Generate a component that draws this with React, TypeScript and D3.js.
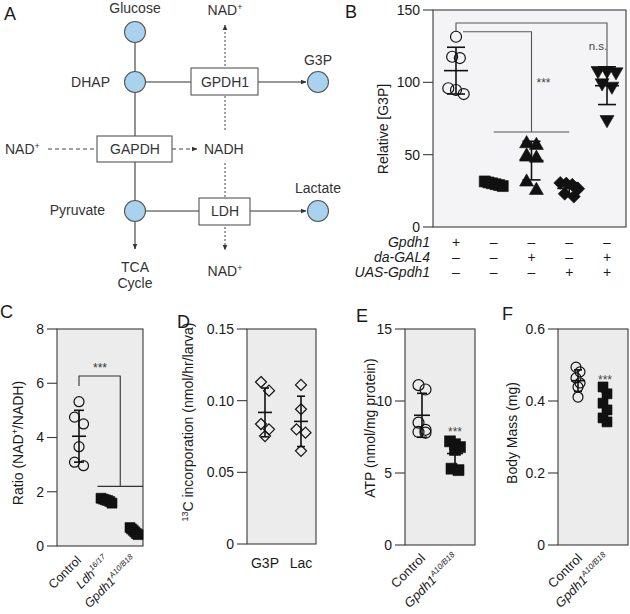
import React from 'react';
import * as d3 from 'd3';

const FONT = '"Liberation Sans", Arial, Helvetica, sans-serif';
const INK = '#1a1a1a';

// ---------- Panel B data ----------
const bGroups = ['WT', 'Gpdh1', 'daGAL4', 'UAS', 'Rescue'];
const bRowLabels = ['Gpdh1', 'da-GAL4', 'UAS-Gpdh1'];
const bRowGpdh1 = ['+', '–', '–', '–', '–'];
const bRowDaGal4 = ['–', '–', '+', '–', '+'];
const bRowUas = ['–', '–', '–', '+', '+'];
const bWT = [131.5, 117.7, 116.8, 95.9, 94.7, 91.9];
const bMut = [31.5, 30.8, 30.2, 29.6, 29.0, 28.3];
const bDaGal4 = [59, 57.8, 50.5, 49, 32.5, 26.7];
const bUas = [30.5, 30, 29.2, 26.5, 23, 21];
const bRescue = [106.7, 106.7, 105.8, 98.2, 95.9, 72.8];
const bTicks = [0, 50, 100, 150];

// ---------- Panel C data ----------
const cGroups = ['Control', 'Ldh', 'Gpdh1'];
const cControl = [5.32, 4.75, 4.5, 3.66, 3.09, 2.96];
const cLdh = [1.76, 1.73, 1.7, 1.68, 1.64, 1.58];
const cGpdh1 = [0.68, 0.63, 0.58, 0.52, 0.46, 0.42];
const cTicks = [0, 2, 4, 6, 8];

// ---------- Panel D data ----------
const dGroups = ['G3P', 'Lac'];
const dG3P = [0.113, 0.107, 0.0837, 0.08, 0.0753];
const dLac = [0.111, 0.094, 0.08, 0.0777, 0.065];
const dTicks = [0, 0.05, 0.1, 0.15];

// ---------- Panel E data ----------
const eGroups = ['Control', 'Gpdh1'];
const eControl = [11.1, 10.8, 8.5, 8.0, 7.85, 7.8];
const eGpdh1 = [7.2, 7.0, 6.8, 6.6, 5.3, 5.2];
const eTicks = [0, 5, 10, 15];

// ---------- Panel F data ----------
const fGroups = ['Control', 'Gpdh1'];
const fControl = [0.494, 0.481, 0.464, 0.45, 0.439, 0.411];
const fGpdh1 = [0.439, 0.42, 0.394, 0.375, 0.353, 0.342];
const fTicks = [0, 0.2, 0.4, 0.6];

type Shape = 'circle' | 'square' | 'triUp' | 'triDown' | 'diamond' | 'diamondOpen';

function shapePath(shape: Shape, s: number): string {
  const p = d3.path();
  const h = s / 2;
  if (shape === 'square') p.rect(-h, -h, s, s);
  else if (shape === 'triUp') {
    const th = s * 0.87;
    p.moveTo(0, -th / 2); p.lineTo(h, th / 2); p.lineTo(-h, th / 2); p.closePath();
  } else if (shape === 'triDown') {
    const th = s * 0.87;
    p.moveTo(0, th / 2); p.lineTo(h, -th / 2); p.lineTo(-h, -th / 2); p.closePath();
  } else if (shape === 'diamond' || shape === 'diamondOpen') {
    p.moveTo(0, -h); p.lineTo(h, 0); p.lineTo(0, h); p.lineTo(-h, 0); p.closePath();
  } else {
    p.moveTo(h, 0); p.arc(0, 0, h, 0, Math.PI * 2);
  }
  return p.toString();
}

function swarm(values: number[], y: (v: number) => number, binH: number, spacing: number, maxSpread: number) {
  const idx = values.map((_, i) => i).sort((a, b) => values[b] - values[a]);
  const off = new Array(values.length).fill(0);
  let bin: number[] = [];
  const flush = () => {
    const n = bin.length;
    let sp = spacing;
    if (n > 1 && (n - 1) * sp > maxSpread) sp = maxSpread / (n - 1);
    bin.forEach((k, j) => { off[k] = (j - (n - 1) / 2) * sp; });
    bin = [];
  };
  idx.forEach((i) => {
    if (bin.length && Math.abs(y(values[i]) - y(values[bin[0]])) > binH) flush();
    bin.push(i);
  });
  flush();
  return off;
}

function Group(props: {
  values: number[]; cx: number; y: d3.ScaleLinear<number, number>; shape: Shape; size: number;
  spacing: number; maxSpread: number; binH: number; meanHalf: number; capHalf: number;
}) {
  const { values, cx, y, shape, size, spacing, maxSpread, binH, meanHalf, capHalf } = props;
  const offs = swarm(values, y, binH, spacing, maxSpread);
  const m = d3.mean(values)!;
  const sd = d3.deviation(values)!;
  const open = shape === 'circle' || shape === 'diamondOpen';
  return (
    <g>
      {values.map((v, i) => (
        <path key={i} d={shapePath(shape, size)} transform={`translate(${cx + offs[i]},${y(v)})`}
          fill={open ? 'none' : '#111'} stroke="#111" strokeWidth={open ? 1.2 : 0.6} />
      ))}
      <g stroke="#111" strokeWidth={1.6}>
        <line x1={cx} x2={cx} y1={y(m + sd)} y2={y(m - sd)} />
        <line x1={cx - meanHalf} x2={cx + meanHalf} y1={y(m)} y2={y(m)} />
        <line x1={cx - capHalf} x2={cx + capHalf} y1={y(m + sd)} y2={y(m + sd)} />
        <line x1={cx - capHalf} x2={cx + capHalf} y1={y(m - sd)} y2={y(m - sd)} />
      </g>
    </g>
  );
}

function Frame(props: { x0: number; x1: number; y: d3.ScaleLinear<number, number>; ticks: number[]; fmt: (t: number) => string; fill: string }) {
  const { x0, x1, y, ticks, fmt, fill } = props;
  const [yb, yt] = y.range();
  return (
    <g>
      <rect x={x0} y={yt} width={x1 - x0} height={yb - yt} fill={fill} stroke="#3a3a3a" strokeWidth={1.1} />
      {ticks.map((t) => (
        <g key={t}>
          <line x1={x0 - 10} x2={x0} y1={y(t)} y2={y(t)} stroke="#3a3a3a" strokeWidth={1.1} />
          <text x={x0 - 13} y={y(t)} dy="0.35em" textAnchor="end" fontSize={14} fill={INK}>{fmt(t)}</text>
        </g>
      ))}
    </g>
  );
}

function YLabel(props: { x: number; y: number; children: React.ReactNode }) {
  return (
    <text transform={`translate(${props.x},${props.y}) rotate(-90)`} textAnchor="middle" fontSize={14} fill={INK}>
      {props.children}
    </text>
  );
}

function RotLabel(props: { x: number; y: number; main: string; sup?: string; italic?: boolean; size?: number }) {
  const fs = props.size ?? 13.5;
  return (
    <text transform={`translate(${props.x},${props.y}) rotate(-45)`} textAnchor="end" fontSize={fs} fill={INK}>
      <tspan fontStyle={props.italic ? 'italic' : 'normal'}>{props.main}</tspan>
      {props.sup ? <tspan fontSize={fs * 0.62} dy={-fs * 0.42} fontStyle="italic">{props.sup}</tspan> : null}
    </text>
  );
}

function PanelLetter(props: { x: number; y: number; t: string }) {
  return <text x={props.x} y={props.y} fontSize={18} fill={INK}>{props.t}</text>;
}

function PanelA() {
  const fillC = '#a9d2ef';
  const node = (x: number, y: number) => <circle cx={x} cy={y} r={10.5} fill={fillC} stroke="#555" strokeWidth={1.1} />;
  const box = (x: number, y: number, w: number, h: number) => <rect x={x} y={y} width={w} height={h} fill="#fff" stroke="#555" strokeWidth={1.1} />;
  const fs = 14;
  const sup = (t: string) => <tspan fontSize={9} dy={-5}>{t}</tspan>;
  return (
    <g fontSize={fs} fill="#333">
      <PanelLetter x={4} y={20} t="A" />
      <line x1={135} y1={32} x2={135} y2={249} stroke="#777" strokeWidth={1.6} markerEnd="url(#ah)" />
      <line x1={135} y1={82} x2={191} y2={82} stroke="#333" strokeWidth={1} />
      <line x1={258} y1={82} x2={306} y2={82} stroke="#333" strokeWidth={1} markerEnd="url(#ah)" />
      <line x1={135} y1={211} x2={199} y2={211} stroke="#333" strokeWidth={1} />
      <line x1={250} y1={211} x2={306} y2={211} stroke="#333" strokeWidth={1} markerEnd="url(#ah)" />
      <line x1={225} y1={130} x2={225} y2={25} stroke="#444" strokeWidth={1} strokeDasharray="2,2" markerEnd="url(#ah)" />
      <line x1={225} y1={163} x2={225} y2={250} stroke="#444" strokeWidth={1} strokeDasharray="2,2" markerEnd="url(#ah)" />
      <line x1={48} y1={149} x2={97} y2={149} stroke="#444" strokeWidth={1} strokeDasharray="4,3" />
      <line x1={172} y1={149} x2={197} y2={149} stroke="#444" strokeWidth={1} strokeDasharray="4,3" markerEnd="url(#ah)" />
      {box(191, 68, 67, 27)}
      {box(97, 136, 75, 26)}
      {box(199, 198, 51, 27)}
      {node(135, 32)}
      {node(135, 82)}
      {node(135, 211)}
      {node(318, 82)}
      {node(318, 211)}
      <text x={135} y={13} textAnchor="middle">Glucose</text>
      <text x={225} y={15} textAnchor="middle">NAD{sup('+')}</text>
      <text x={110} y={87} textAnchor="end">DHAP</text>
      <text x={225} y={87} textAnchor="middle">GPDH1</text>
      <text x={318} y={65} textAnchor="middle">G3P</text>
      <text x={5} y={154}>NAD{sup('+')}</text>
      <text x={135} y={154} textAnchor="middle">GAPDH</text>
      <text x={204} y={154}>NADH</text>
      <text x={105} y={215} textAnchor="end">Pyruvate</text>
      <text x={225} y={216} textAnchor="middle">LDH</text>
      <text x={318} y={193} textAnchor="middle">Lactate</text>
      <text x={135} y={272} textAnchor="middle">TCA</text>
      <text x={135} y={288} textAnchor="middle">Cycle</text>
      <text x={225} y={276} textAnchor="middle">NAD{sup('+')}</text>
    </g>
  );
}

function PanelB() {
  const x0 = 433, x1 = 626;
  const y = d3.scaleLinear().domain([0, 150]).range([227, 10]);
  const x = d3.scalePoint<string>().domain(bGroups).range([456, 607]);
  const series: { v: number[]; s: Shape; size: number }[] = [
    { v: bWT, s: 'circle', size: 11 },
    { v: bMut, s: 'square', size: 11 },
    { v: bDaGal4, s: 'triUp', size: 14 },
    { v: bUas, s: 'diamond', size: 13 },
    { v: bRescue, s: 'triDown', size: 14 },
  ];
  const rows = [bRowGpdh1, bRowDaGal4, bRowUas];
  const rowY = [247, 262, 277];
  const gx = (i: number) => x(bGroups[i])!;
  return (
    <g>
      <PanelLetter x={345} y={18} t="B" />
      <Frame x0={x0} x1={x1} y={y} ticks={bTicks} fmt={(t) => String(t)} fill="#f4f4f6" />
      <YLabel x={388} y={129}>Relative [G3P]</YLabel>
      <path d={`M${gx(0)},${y(135)}V${y(141)}H${gx(4)}V${y(110)}`} fill="none" stroke="#555" strokeWidth={1.1} />
      <path d={`M${gx(0) + 7},${y(135)}H${gx(2)}V${y(65.7)}M${gx(1)},${y(65.7)}H${gx(3)}`} fill="none" stroke="#555" strokeWidth={1.1} />
      <text x={gx(2) + 12} y={y(100) + 5} textAnchor="middle" fontSize={12} fill="#444">***</text>
      <text x={gx(4) - 9} y={y(125) + 4} textAnchor="middle" fontSize={11.5} fill="#444">n.s.</text>
      {series.map((sr, i) => (
        <Group key={i} values={sr.v} cx={gx(i)} y={y} shape={sr.s} size={sr.size}
          spacing={sr.size * 0.7} maxSpread={18} binH={sr.size * 0.75} meanHalf={12} capHalf={9} />
      ))}
      {bRowLabels.map((lab, r) => (
        <g key={lab}>
          <text x={430} y={rowY[r]} textAnchor="end" fontStyle="italic" fontSize={14} fill={INK}>{lab}</text>
          {rows[r].map((s, i) => (
            <text key={i} x={gx(i)} y={rowY[r]} textAnchor="middle" fontSize={14} fill={INK}>{s}</text>
          ))}
        </g>
      ))}
    </g>
  );
}

function PanelC() {
  const x0 = 57, x1 = 143;
  const y = d3.scaleLinear().domain([0, 8]).range([546, 329]);
  const x = d3.scalePoint<string>().domain(cGroups).range([79, 134]);
  const gx = (i: number) => x(cGroups[i])!;
  const yb = 546;
  return (
    <g>
      <PanelLetter x={0} y={318} t="C" />
      <Frame x0={x0} x1={x1} y={y} ticks={cTicks} fmt={(t) => String(t)} fill="#ececec" />
      <YLabel x={23} y={443}>Ratio (NAD<tspan fontSize={9} dy={-5}>+</tspan><tspan dy={5}>/NADH)</tspan></YLabel>
      <path d={`M${gx(0)},${y(5.9)}V${y(6.27)}H${(gx(1) + gx(2)) / 2}V${y(2.2)}M${gx(1) - 9},${y(2.2)}H${x1}`} fill="none" stroke="#333" strokeWidth={1.1} />
      <text x={100} y={y(6.27) - 4} textAnchor="middle" fontSize={12} fill="#333">***</text>
      <Group values={cControl} cx={gx(0)} y={y} shape="circle" size={10} spacing={9} maxSpread={12} binH={7.5} meanHalf={7} capHalf={5} />
      <Group values={cLdh} cx={gx(1)} y={y} shape="square" size={10} spacing={8} maxSpread={11} binH={7.5} meanHalf={7} capHalf={5} />
      <Group values={cGpdh1} cx={gx(2)} y={y} shape="square" size={10} spacing={8} maxSpread={8} binH={7.5} meanHalf={7} capHalf={5} />
      <RotLabel x={gx(0) + 3} y={yb + 15} main="Control" size={12.5} />
      <RotLabel x={gx(1) + 3} y={yb + 15} main="Ldh" sup="16/17" italic size={12.5} />
      <RotLabel x={gx(2) + 3} y={yb + 15} main="Gpdh1" sup="A10/B18" italic size={12.5} />
    </g>
  );
}

function PanelD() {
  const x0 = 247, x1 = 316;
  const y = d3.scaleLinear().domain([0, 0.15]).range([544, 329]);
  const x = d3.scalePoint<string>().domain(dGroups).range([265, 301]);
  const fmt = (t: number) => (t === 0 ? '0' : d3.format('.2f')(t));
  return (
    <g>
      <PanelLetter x={177} y={328} t="D" />
      <Frame x0={x0} x1={x1} y={y} ticks={dTicks} fmt={fmt} fill="#ececec" />
      <YLabel x={193} y={422}><tspan fontSize={9} dy={-5}>13</tspan><tspan dy={5}>C incorporation (nmol/hr/larva)</tspan></YLabel>
      <Group values={dG3P} cx={x('G3P')!} y={y} shape="diamondOpen" size={11} spacing={8} maxSpread={10} binH={9} meanHalf={7} capHalf={4} />
      <Group values={dLac} cx={x('Lac')!} y={y} shape="diamondOpen" size={11} spacing={9} maxSpread={10} binH={9} meanHalf={7} capHalf={4} />
      {dGroups.map((g) => (
        <text key={g} x={x(g)!} y={568} textAnchor="middle" fontSize={14} fill={INK}>{g}</text>
      ))}
    </g>
  );
}

function PanelE() {
  const x0 = 405, x1 = 475;
  const y = d3.scaleLinear().domain([0, 15]).range([545, 329]);
  const x = d3.scalePoint<string>().domain(eGroups).range([422, 455]);
  return (
    <g>
      <PanelLetter x={356} y={322} t="E" />
      <Frame x0={x0} x1={x1} y={y} ticks={eTicks} fmt={(t) => String(t)} fill="#ececec" />
      <YLabel x={375} y={428}>ATP (nmol/mg protein)</YLabel>
      <Group values={eControl} cx={x('Control')!} y={y} shape="circle" size={11} spacing={7} maxSpread={10} binH={8.25} meanHalf={8} capHalf={5} />
      <Group values={eGpdh1} cx={x('Gpdh1')!} y={y} shape="square" size={11} spacing={7} maxSpread={10} binH={8.25} meanHalf={8} capHalf={5} />
      <text x={x('Gpdh1')!} y={436} textAnchor="middle" fontSize={12} fill="#444">***</text>
      <RotLabel x={x('Control')! + 4} y={559} main="Control" size={13} />
      <RotLabel x={x('Gpdh1')! + 4} y={559} main="Gpdh1" sup="A10/B18" italic size={13} />
    </g>
  );
}

function PanelF() {
  const x0 = 558, x1 = 628;
  const y = d3.scaleLinear().domain([0, 0.6]).range([545, 329]);
  const x = d3.scalePoint<string>().domain(fGroups).range([578, 605]);
  const fmt = (t: number) => (t === 0 ? '0' : d3.format('.1f')(t));
  return (
    <g>
      <PanelLetter x={502} y={320} t="F" />
      <Frame x0={x0} x1={x1} y={y} ticks={fTicks} fmt={fmt} fill="#ececec" />
      <YLabel x={517} y={433}>Body Mass (mg)</YLabel>
      <Group values={fControl} cx={x('Control')!} y={y} shape="circle" size={10} spacing={4} maxSpread={6} binH={7.5} meanHalf={7} capHalf={4} />
      <Group values={fGpdh1} cx={x('Gpdh1')!} y={y} shape="square" size={10} spacing={4} maxSpread={6} binH={7.5} meanHalf={7} capHalf={4} />
      <text x={x('Gpdh1')!} y={384} textAnchor="middle" fontSize={12} fill="#444">***</text>
      <RotLabel x={x('Control')! + 5} y={559} main="Control" size={13} />
      <RotLabel x={x('Gpdh1')! + 5} y={559} main="Gpdh1" sup="A10/B18" italic size={13} />
    </g>
  );
}

export default function App() {
  return (
    <svg width={630} height={614} viewBox="0 0 630 614" fontFamily={FONT}
      style={{ position: 'absolute', left: 0, top: 0, background: '#fff' }}>
      <defs>
        <marker id="ah" viewBox="0 0 10 10" refX="9" refY="5" markerWidth={6} markerHeight={6}
          markerUnits="userSpaceOnUse" orient="auto">
          <path d="M0,1 L10,5 L0,9 Z" fill="#333" />
        </marker>
      </defs>
      <rect width={630} height={614} fill="#fff" />
      <PanelA />
      <PanelB />
      <PanelC />
      <PanelD />
      <PanelE />
      <PanelF />
    </svg>
  );
}
